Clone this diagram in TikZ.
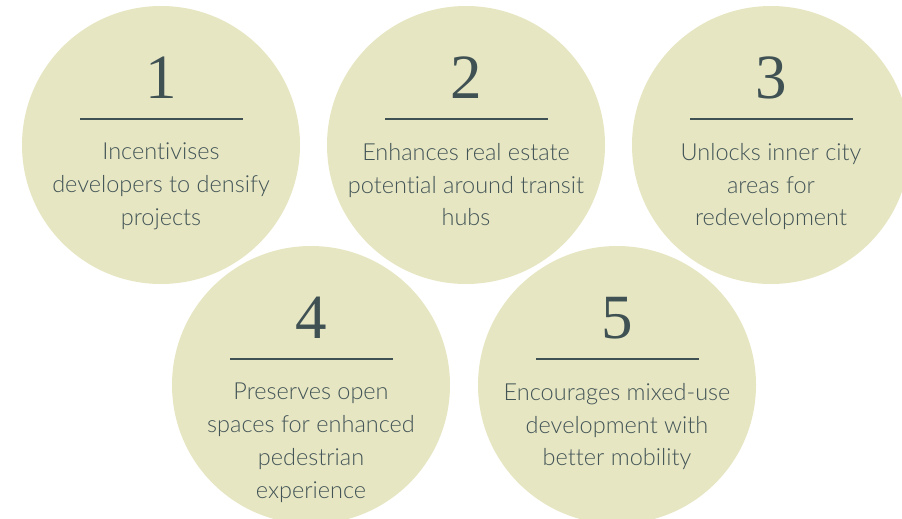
\documentclass[tikz,border=0pt]{standalone}
\usepackage{fontspec}
\setsansfont{Lato Light}[Ligatures=NoCommon]
\newfontfamily\numfont{Liberation Serif}
\definecolor{disc}{HTML}{E7E6C3}
\definecolor{ink}{HTML}{3F5153}
\definecolor{body}{HTML}{425456}
\begin{document}
\begin{tikzpicture}[x=1pt,y=-1pt,
  disc/.style={circle,fill=disc,draw=none,minimum size=278pt,inner sep=0pt},
  num/.style={anchor=base,text=ink,inner sep=0pt,font=\numfont\fontsize{63}{63}\selectfont},
  rulebar/.style={draw=ink,line width=2.2pt},
  desc/.style={anchor=north,text=body,inner sep=0pt,align=center,font=\sffamily\fontsize{23.5}{32.8}\selectfont}]
\useasboundingbox (0,0) rectangle (902,519);
\begin{scope}
\clip (0,0) rectangle (902,519);
\foreach \n/\x/\y in {c1/161/145,c2/466/145,c3/771/145,c4/311/385,c5/617/385}{
  \node[disc] (\n) at (\x,\y) {};
}
\end{scope}
% circle 1
\node[num] (n1) at ([yshift=47pt]c1.center) {1};
\draw[rulebar] ([shift={(-81pt,26pt)}]c1.center) coordinate (l1a) -- ([shift={(82pt,26pt)}]c1.center) coordinate (l1b);
\node[desc] (t1) at ([yshift=2pt]c1.center) {Incentivises\\developers to densify\\projects};
% circle 2
\node[num] (n2) at ([yshift=47pt]c2.center) {2};
\draw[rulebar] ([shift={(-81pt,26pt)}]c2.center) coordinate (l2a) -- ([shift={(82pt,26pt)}]c2.center) coordinate (l2b);
\node[desc] (t2) at ([yshift=2pt]c2.center) {Enhances real estate\\potential around transit\\hubs};
% circle 3
\node[num] (n3) at ([yshift=47pt]c3.center) {3};
\draw[rulebar] ([shift={(-81pt,26pt)}]c3.center) coordinate (l3a) -- ([shift={(82pt,26pt)}]c3.center) coordinate (l3b);
\node[desc] (t3) at ([yshift=2pt]c3.center) {Unlocks inner city\\areas for\\redevelopment};
% circle 4
\node[num] (n4) at ([yshift=47pt]c4.center) {4};
\draw[rulebar] ([shift={(-81pt,26pt)}]c4.center) coordinate (l4a) -- ([shift={(82pt,26pt)}]c4.center) coordinate (l4b);
\node[desc] (t4) at ([yshift=2pt]c4.center) {Preserves open\\spaces for enhanced\\pedestrian\\experience};
% circle 5
\node[num] (n5) at ([yshift=47pt]c5.center) {5};
\draw[rulebar] ([shift={(-81pt,26pt)}]c5.center) coordinate (l5a) -- ([shift={(82pt,26pt)}]c5.center) coordinate (l5b);
\node[desc] (t5) at ([yshift=2pt]c5.center) {Encourages mixed-use\\development with\\better mobility};
\end{tikzpicture}
\end{document}
